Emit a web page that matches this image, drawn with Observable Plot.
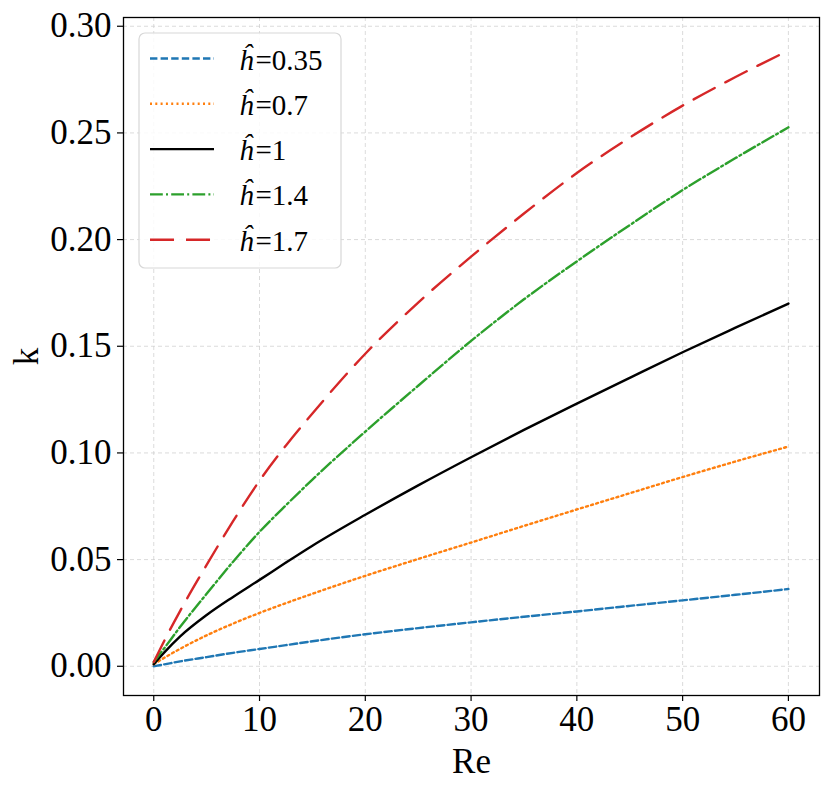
<!DOCTYPE html>
<html>
<head>
<meta charset="utf-8">
<script src="https://cdn.jsdelivr.net/npm/d3@7"></script>
<script src="https://cdn.jsdelivr.net/npm/@observablehq/plot@0.6"></script>
<style>
  html, body { margin: 0; padding: 0; background: #fff; }
  #chart svg { display: block; }
</style>
</head>
<body>
<div id="chart"></div>
<script>
// Reynolds numbers sampled
const re = [0, 1, 2.5, 5, 7.5, 10, 12.5, 15, 20, 25, 30, 35, 40, 45, 50, 55, 60];

// k values per h-hat series
const k035 = [0.000, 0.0009, 0.0023, 0.0043, 0.0063, 0.0081, 0.0099, 0.0117, 0.0150, 0.0179, 0.0206, 0.0232, 0.0257, 0.0283, 0.0309, 0.0335, 0.0362];
const k07  = [0.001, 0.0040, 0.0082, 0.0145, 0.0200, 0.0250, 0.0296, 0.0340, 0.0424, 0.0503, 0.0580, 0.0658, 0.0735, 0.0811, 0.0887, 0.0960, 0.1030];
const k1   = [0.001, 0.0065, 0.0140, 0.0240, 0.0325, 0.0405, 0.0486, 0.0565, 0.0710, 0.0848, 0.0980, 0.1108, 0.1231, 0.1352, 0.1472, 0.1587, 0.1700];
const k14  = [0.002, 0.0085, 0.0185, 0.0340, 0.0490, 0.0630, 0.0755, 0.0875, 0.1100, 0.1315, 0.1525, 0.1720, 0.1898, 0.2068, 0.2232, 0.2382, 0.2526];
const k17  = [0.002, 0.0120, 0.0260, 0.0475, 0.0680, 0.0870, 0.1035, 0.1185, 0.1465, 0.1705, 0.1920, 0.2122, 0.2312, 0.2478, 0.2628, 0.2762, 0.2886];

const seriesNames = ["0.35", "0.7", "1", "1.4", "1.7"];
const seriesValues = [k035, k07, k1, k14, k17];
const seriesColors = ["#1f77b4", "#ff7f0e", "#000000", "#2ca02c", "#d62728"];
const seriesDash = ["7.4,3.2", "2,3.3", null, "12.8,3.2,2,3.2", "24,12"];

const xTicks = [0, 10, 20, 30, 40, 50, 60];
const yTicks = [0.00, 0.05, 0.10, 0.15, 0.20, 0.25, 0.30];

const font = "'Liberation Serif', 'DejaVu Serif', serif";

const lineMarks = seriesValues.map((vals, i) => {
  const rows = re.map((r, j) => ({Re: r, k: vals[j]}));
  return Plot.line(rows, {
    x: "Re", y: "k",
    stroke: seriesColors[i],
    strokeWidth: 2.4,
    strokeDasharray: seriesDash[i] || undefined,
    curve: "monotone-x"
  });
});

const chart = Plot.plot({
  width: 831,
  height: 791,
  marginLeft: 123,
  marginRight: 12,
  marginTop: 17,
  marginBottom: 96,
  style: {fontFamily: font, fontSize: "35px", background: "#fff", color: "#000"},
  x: {domain: [-2.86, 62.94]},
  y: {domain: [-0.0137, 0.3041]},
  marks: [
    Plot.gridX(xTicks, {stroke: "#cfcfcf", strokeOpacity: 0.75, strokeDasharray: "4,3", strokeWidth: 1}),
    Plot.gridY(yTicks, {stroke: "#cfcfcf", strokeOpacity: 0.75, strokeDasharray: "4,3", strokeWidth: 1}),
    ...lineMarks,
    Plot.axisX(xTicks, {tickSize: 6, tickPadding: 5, fontSize: 35, label: "Re", labelAnchor: "center", labelOffset: 77, labelArrow: "none", strokeWidth: 1.2}),
    Plot.axisY(yTicks, {tickSize: 6, tickPadding: 6, fontSize: 35, tickFormat: d3.format(".2f"), label: "k", labelAnchor: "center", labelOffset: 110, labelArrow: "none", strokeWidth: 1.2}),
    Plot.frame({stroke: "#000", strokeWidth: 1.3})
  ]
});

// Legend inside the plot area (upper left)
const svg = d3.select(chart);
const lg = svg.append("g").attr("class", "legend").attr("text-anchor", "start");
lg.append("rect")
  .attr("x", 139).attr("y", 33).attr("width", 202).attr("height", 235)
  .attr("rx", 6).attr("ry", 6)
  .attr("fill", "#fff").attr("fill-opacity", 0.85)
  .attr("stroke", "#d8d8d8").attr("stroke-width", 1.2);
const rowY = [58.5, 103.8, 149.1, 194.4, 239.7];
seriesNames.forEach((name, i) => {
  const y = rowY[i];
  const ln = lg.append("line")
    .attr("x1", 150).attr("x2", 214).attr("y1", y).attr("y2", y)
    .attr("stroke", seriesColors[i]).attr("stroke-width", 2.4);
  if (seriesDash[i]) ln.attr("stroke-dasharray", seriesDash[i]);
  const t = lg.append("text")
    .attr("x", 239).attr("y", y + 11)
    .attr("text-anchor", "start")
    .attr("font-family", font).attr("font-size", 29);
  t.append("tspan").attr("font-style", "italic").text("ĥ");
  t.append("tspan").attr("dx", 2).text("=" + name);
});

document.getElementById("chart").appendChild(chart);
</script>
</body>
</html>
